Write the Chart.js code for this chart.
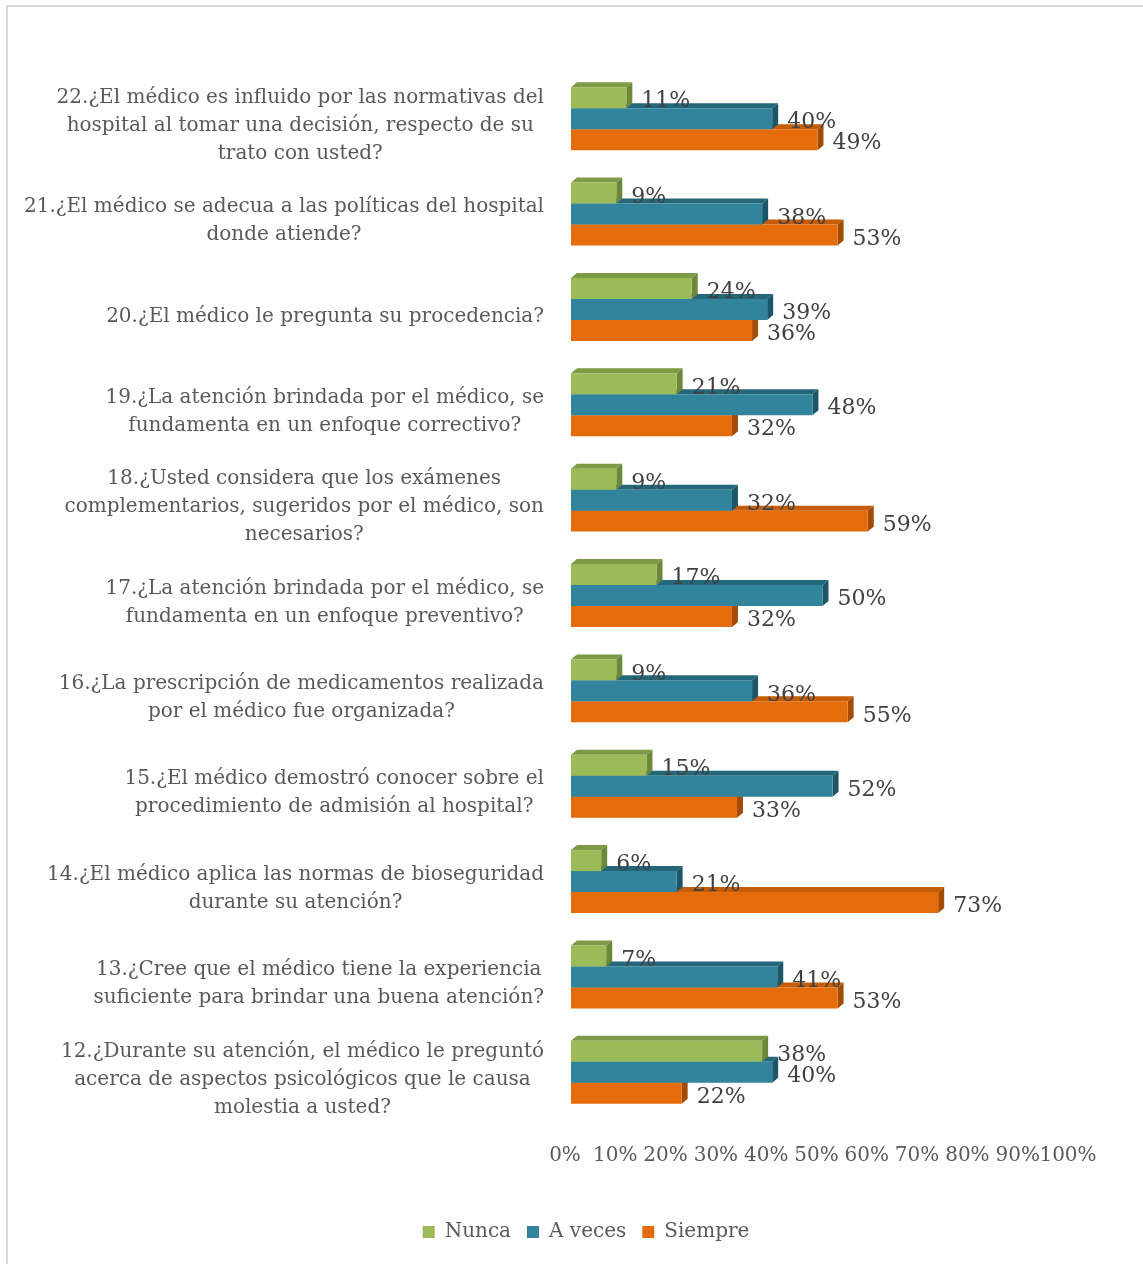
<!DOCTYPE html>
<html>
<head>
<meta charset="utf-8">
<script src="https://cdn.jsdelivr.net/npm/chart.js@4/dist/chart.umd.min.js"></script>
<style>
  html, body { margin: 0; padding: 0; background: #fff; overflow: hidden; }
  #frame { position: absolute; left: 6px; top: 5px; width: 1200px; height: 1300px;
           border: 2px solid #d9d9d9; box-sizing: border-box; }
  #c { position: absolute; left: 0; top: 0; }
</style>
</head>
<body>
<div id="frame"></div>
<canvas id="c" width="1143" height="1264"></canvas>
<script>
// Survey questions (one entry per question, wrapped lines)
const categories = [
  ["22.¿El médico es influido por las normativas del", "hospital al tomar una decisión, respecto de su", "trato con usted?"],
  ["21.¿El médico se adecua a las políticas del hospital", "donde atiende?"],
  ["20.¿El médico le pregunta su procedencia?"],
  ["19.¿La atención brindada por el médico, se", "fundamenta en un enfoque correctivo?"],
  ["18.¿Usted considera que los exámenes", "complementarios, sugeridos por el médico, son", "necesarios?"],
  ["17.¿La atención brindada por el médico, se", "fundamenta en un enfoque preventivo?"],
  ["16.¿La prescripción de medicamentos realizada", "por el médico fue organizada?"],
  ["15.¿El médico demostró conocer sobre el", "procedimiento de admisión al hospital?"],
  ["14.¿El médico aplica las normas de bioseguridad", "durante su atención?"],
  ["13.¿Cree que el médico tiene la experiencia", "suficiente para brindar una buena atención?"],
  ["12.¿Durante su atención, el médico le preguntó", "acerca de aspectos psicológicos que le causa", "molestia a usted?"]
];

// Percentages per answer
const nunca   = [11, 9, 24, 21, 9, 17, 9, 15, 6, 7, 38];
const aVeces  = [40, 38, 39, 48, 32, 50, 36, 52, 21, 41, 40];
const siempre = [49, 53, 36, 32, 59, 32, 55, 33, 73, 53, 22];

const seriesNames = ["Nunca", "A veces", "Siempre"];
const xTickLabels = ["0%", "10%", "20%", "30%", "40%", "50%", "60%", "70%", "80%", "90%", "100%"];

const FONT = "'DejaVu Serif', serif";

// front / top / side shades of each series
const shades = [
  { front: "#9bbb59", top: "#7d9a46", side: "#6c883b" },
  { front: "#31849b", top: "#24677a", side: "#1d5667" },
  { front: "#e46c0a", top: "#c45c08", side: "#a34c06" }
];
const DX = 6, DY = 5;

function poly(ctx, pts, color) {
  ctx.beginPath();
  ctx.moveTo(pts[0][0], pts[0][1]);
  for (let k = 1; k < pts.length; k++) ctx.lineTo(pts[k][0], pts[k][1]);
  ctx.closePath();
  ctx.fillStyle = color;
  ctx.fill();
}

// Top and side faces behind the bar fronts, giving the bars depth
const barDepth = {
  id: "barDepth",
  beforeDatasetsDraw(chart) {
    const ctx = chart.ctx;
    ctx.save();
    const n = chart.data.labels.length;
    for (let i = 0; i < n; i++) {
      for (let d = chart.data.datasets.length - 1; d >= 0; d--) {
        const bar = chart.getDatasetMeta(d).data[i];
        const p = bar.getProps(["x", "y", "base", "height"], true);
        const t = p.y - p.height / 2, b = p.y + p.height / 2;
        poly(ctx, [[p.base, t], [p.x, t], [p.x + DX, t - DY], [p.base + DX, t - DY]], shades[d].top);
        poly(ctx, [[p.x, t], [p.x + DX, t - DY], [p.x + DX, b - DY], [p.x, b]], shades[d].side);
      }
    }
    ctx.restore();
  }
};

// Value labels to the right of each bar
const valueLabels = {
  id: "valueLabels",
  afterDatasetsDraw(chart) {
    const ctx = chart.ctx;
    ctx.save();
    ctx.font = "22px " + FONT;
    ctx.fillStyle = "#404040";
    ctx.textAlign = "left";
    ctx.textBaseline = "middle";
    chart.data.datasets.forEach((ds, d) => {
      chart.getDatasetMeta(d).data.forEach((bar, i) => {
        const p = bar.getProps(["x", "y"], true);
        ctx.fillText(ds.data[i] + "%", p.x + 15, p.y + 4);
      });
    });
    ctx.restore();
  }
};

// Question texts: block right-aligned against the bars, lines centred in the block
const questionLabels = {
  id: "questionLabels",
  afterDraw(chart) {
    const ctx = chart.ctx;
    const ys = chart.scales.y;
    ctx.save();
    ctx.font = "20px " + FONT;
    ctx.fillStyle = "#595959";
    ctx.textAlign = "center";
    ctx.textBaseline = "middle";
    const right = 544, lh = 28;
    categories.forEach((lines, i) => {
      const w = Math.max(...lines.map(l => ctx.measureText(l).width));
      const cx = right - w / 2;
      const yc = ys.getPixelForValue(i) + 7;
      lines.forEach((l, j) => {
        ctx.fillText(l, cx, yc + (j - (lines.length - 1) / 2) * lh);
      });
    });
    ctx.restore();
  }
};

new Chart(document.getElementById("c"), {
  type: "bar",
  data: {
    labels: categories,
    datasets: [
      { label: seriesNames[0], data: nunca,   backgroundColor: shades[0].front },
      { label: seriesNames[1], data: aVeces,  backgroundColor: shades[1].front },
      { label: seriesNames[2], data: siempre, backgroundColor: shades[2].front }
    ]
  },
  options: {
    indexAxis: "y",
    responsive: false,
    animation: false,
    devicePixelRatio: 1,
    categoryPercentage: 0.66,
    barPercentage: 1,
    borderWidth: 0,
    layout: { padding: { top: 71, left: 98, right: 69, bottom: 12 } },
    scales: {
      x: {
        min: 0, max: 100,
        grid: { display: false, drawTicks: false },
        border: { display: false },
        ticks: {
          stepSize: 10,
          autoSkip: false,
          maxRotation: 0,
          labelOffset: -6,
          padding: 24,
          color: "#595959",
          font: { family: FONT, size: 20 },
          callback: (v, i) => xTickLabels[i]
        },
        afterFit(scale) { scale.height = 86; }
      },
      y: {
        grid: { display: false, drawTicks: false },
        border: { display: false },
        ticks: { display: false },
        afterFit(scale) { scale.width = 571 - 98; }
      }
    },
    plugins: {
      legend: {
        position: "bottom",
        labels: {
          boxWidth: 12, boxHeight: 12,
          padding: 16,
          color: "#595959",
          font: { family: FONT, size: 20 }
        }
      },
      tooltip: { enabled: false }
    }
  },
  plugins: [barDepth, valueLabels, questionLabels]
});
</script>
</body>
</html>
